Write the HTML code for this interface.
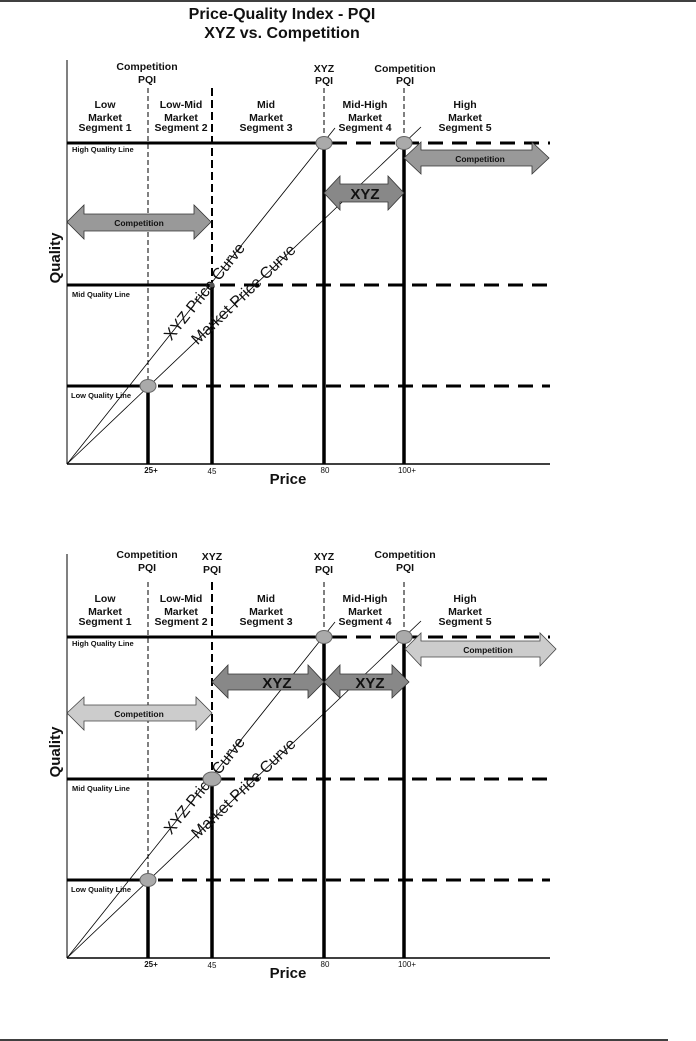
<!DOCTYPE html>
<html><head><meta charset="utf-8"><style>
html,body{margin:0;padding:0;background:#fff}
svg{display:block}
text{font-family:"Liberation Sans",Arial,sans-serif;font-weight:bold;fill:#111}
</style></head><body>
<svg width="696" height="1041" viewBox="0 0 696 1041" xmlns="http://www.w3.org/2000/svg">
<line x1="0" y1="1" x2="696" y2="1" stroke="#000" stroke-width="1.5"/>
<line x1="0" y1="1040" x2="668" y2="1040" stroke="#000" stroke-width="1.5"/>
<text x="282" y="19" font-size="16" text-anchor="middle">Price-Quality Index - PQI</text>
<text x="282" y="38" font-size="16" text-anchor="middle">XYZ vs. Competition</text>

<defs>
<g id="base">
  <line x1="67" y1="60" x2="67" y2="464" stroke="#000" stroke-width="1"/>
  <line x1="67" y1="464" x2="550" y2="464" stroke="#000" stroke-width="1.5"/>
  <line x1="67" y1="143" x2="318" y2="143" stroke="#000" stroke-width="3"/>
  <line x1="332" y1="143" x2="550" y2="143" stroke="#000" stroke-width="3" stroke-dasharray="15,9"/>
  <line x1="67" y1="285" x2="212" y2="285" stroke="#000" stroke-width="3"/>
  <line x1="220" y1="285" x2="550" y2="285" stroke="#000" stroke-width="3" stroke-dasharray="15,9"/>
  <line x1="67" y1="386" x2="142" y2="386" stroke="#000" stroke-width="3"/>
  <line x1="158" y1="386" x2="550" y2="386" stroke="#000" stroke-width="3" stroke-dasharray="15,9"/>
  <line x1="148" y1="88" x2="148" y2="386" stroke="#000" stroke-width="1" stroke-dasharray="5,3"/>
  <line x1="148" y1="386" x2="148" y2="464" stroke="#000" stroke-width="3.5"/>
  <line x1="212" y1="88" x2="212" y2="285" stroke="#000" stroke-width="2" stroke-dasharray="8,4"/>
  <line x1="212" y1="285" x2="212" y2="464" stroke="#000" stroke-width="3.5"/>
  <line x1="324" y1="88" x2="324" y2="143" stroke="#000" stroke-width="1" stroke-dasharray="5,3"/>
  <line x1="324" y1="143" x2="324" y2="464" stroke="#000" stroke-width="3.5"/>
  <line x1="404" y1="88" x2="404" y2="143" stroke="#000" stroke-width="1" stroke-dasharray="5,3"/>
  <line x1="404" y1="143" x2="404" y2="464" stroke="#000" stroke-width="3.5"/>
  <line x1="67" y1="464" x2="335" y2="128" stroke="#000" stroke-width="0.8"/>
  <line x1="67" y1="464" x2="421" y2="127" stroke="#000" stroke-width="0.8"/>
  <text font-size="16" text-anchor="middle" dominant-baseline="central" transform="translate(205,292) rotate(-51.4)" style="font-weight:normal">XYZ Price Curve</text>
  <text font-size="16" text-anchor="middle" dominant-baseline="central" transform="translate(244,295) rotate(-43.6)" style="font-weight:normal">Market Price Curve</text>
  <ellipse cx="148" cy="386" rx="8" ry="6.5" fill="#aaa" stroke="#666"/>
  <ellipse cx="324" cy="143" rx="8" ry="6.5" fill="#aaa" stroke="#666"/>
  <ellipse cx="404" cy="143" rx="8" ry="6.5" fill="#aaa" stroke="#666"/>
  <text x="72" y="152" font-size="7.5">High Quality Line</text>
  <text x="72" y="297" font-size="7.5">Mid Quality Line</text>
  <text x="71" y="398" font-size="7.5">Low Quality Line</text>
  <text transform="translate(60,258) rotate(-90)" font-size="15" text-anchor="middle">Quality</text>
  <text x="288" y="484" font-size="15" text-anchor="middle">Price</text>
  <text x="151" y="473" font-size="8" text-anchor="middle">25+</text>
  <text x="212" y="474" font-size="8" text-anchor="middle" style="font-weight:normal">45</text>
  <text x="325" y="473" font-size="8" text-anchor="middle" style="font-weight:normal">80</text>
  <text x="407" y="473" font-size="8" text-anchor="middle" style="font-weight:normal">100+</text>
  <g font-size="10.5" text-anchor="middle">
    <text x="105" y="108">Low</text><text x="105" y="121">Market</text><text x="105" y="131">Segment 1</text>
    <text x="181" y="108">Low-Mid</text><text x="181" y="121">Market</text><text x="181" y="131">Segment 2</text>
    <text x="266" y="108">Mid</text><text x="266" y="121">Market</text><text x="266" y="131">Segment 3</text>
    <text x="365" y="108">Mid-High</text><text x="365" y="121">Market</text><text x="365" y="131">Segment 4</text>
    <text x="465" y="108">High</text><text x="465" y="121">Market</text><text x="465" y="131">Segment 5</text>
  </g>
</g>
</defs>

<use href="#base"/>
<circle cx="212" cy="285" r="2.5" fill="#555"/>
<g font-size="10.5" text-anchor="middle">
  <text x="147" y="70">Competition</text><text x="147" y="83">PQI</text>
  <text x="324" y="72">XYZ</text><text x="324" y="84">PQI</text>
  <text x="405" y="72">Competition</text><text x="405" y="84">PQI</text>
</g>
<polygon points="404,158 421,142 421,150 532,150 532,142 549,158 532,174 532,166 421,166 421,174" fill="#999" stroke="#333" stroke-width="0.8"/>
<text x="480" y="162" font-size="8.5" text-anchor="middle">Competition</text>
<polygon points="324,193 340,176 340,184 388,184 388,176 404,193 388,210 388,202 340,202 340,210" fill="#888" stroke="#333" stroke-width="0.8"/>
<text x="365" y="199" font-size="15" text-anchor="middle" fill="#222">XYZ</text>
<polygon points="67,222 84,205 84,214 194,214 194,205 211,222 194,239 194,231 84,231 84,239" fill="#999" stroke="#333" stroke-width="0.8"/>
<text x="139" y="226" font-size="8.5" text-anchor="middle">Competition</text>

<g transform="translate(0,494)">
<use href="#base"/>
<ellipse cx="212" cy="285" rx="9" ry="7" fill="#aaa" stroke="#666"/>
<g font-size="10.5" text-anchor="middle">
  <text x="147" y="64">Competition</text><text x="147" y="77">PQI</text>
  <text x="212" y="66">XYZ</text><text x="212" y="79">PQI</text>
  <text x="324" y="66">XYZ</text><text x="324" y="79">PQI</text>
  <text x="405" y="64">Competition</text><text x="405" y="77">PQI</text>
</g>
</g>
<polygon points="405,649 421,633 421,641 540,641 540,633 556,649 540,666 540,657 421,657 421,666" fill="#ccc" stroke="#444" stroke-width="0.8"/>
<text x="488" y="653" font-size="8.5" text-anchor="middle">Competition</text>
<polygon points="212,682 228,665 228,674 308,674 308,665 324,682 308,698 308,690 228,690 228,698" fill="#888" stroke="#333" stroke-width="0.8"/>
<text x="277" y="688" font-size="15" text-anchor="middle" fill="#222">XYZ</text>
<polygon points="324,682 340,665 340,674 392,674 392,665 409,682 392,698 392,690 340,690 340,698" fill="#888" stroke="#333" stroke-width="0.8"/>
<text x="370" y="688" font-size="15" text-anchor="middle" fill="#222">XYZ</text>
<polygon points="67,713 84,697 84,705 196,705 196,697 212,713 196,730 196,721 84,721 84,730" fill="#ccc" stroke="#444" stroke-width="0.8"/>
<text x="139" y="717" font-size="8.5" text-anchor="middle">Competition</text>
</svg>
</body></html>
